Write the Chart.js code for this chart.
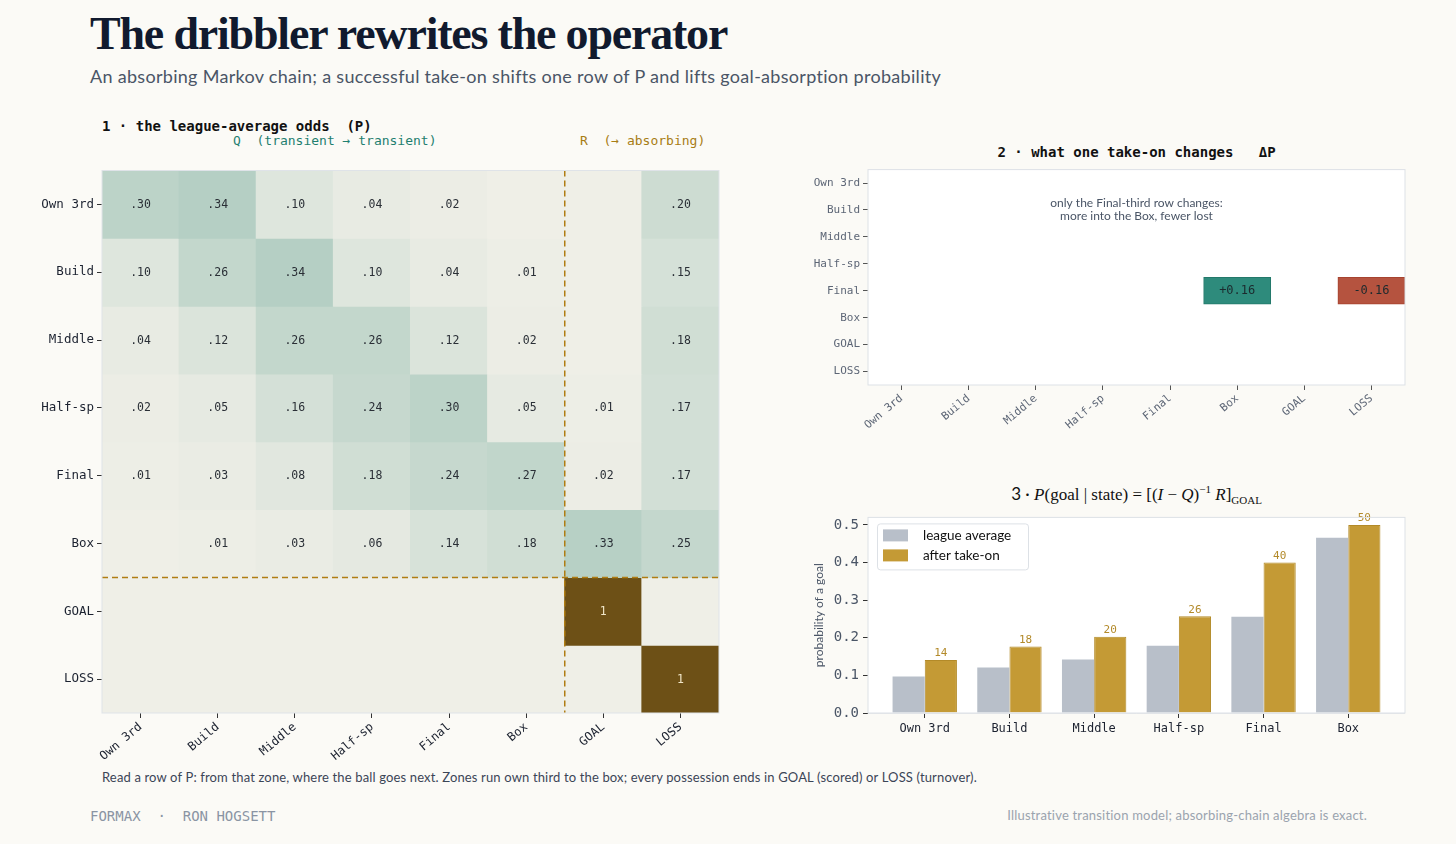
<!DOCTYPE html>
<html>
<head>
<meta charset="utf-8">
<script src="https://cdn.jsdelivr.net/npm/chart.js@4.4.1/dist/chart.umd.min.js"></script>
<style>
  body { margin: 0; background: #fbfaf6; width: 1456px; height: 844px; position: relative; overflow: hidden; font-family: Lato, "Noto Sans", sans-serif; }
  .abs { position: absolute; white-space: pre; line-height: 1; }
  .mono { font-family: "DejaVu Sans Mono", monospace; }
  #title { left: 90px; top: 11px; font-family: "Liberation Serif", serif; font-weight: bold; font-size: 46px; color: #111a2e; letter-spacing: -1.2px; }
  #subtitle { left: 90px; top: 67px; font-size: 18px; color: #4a5566; letter-spacing: 0.3px; }
  #h1 { left: 102px; top: 119px; font-size: 14px; font-weight: bold; color: #111; }
  #hq { left: 233px; top: 134px; font-size: 13px; color: #1f7f70; }
  #hr { left: 580px; top: 134px; font-size: 13px; color: #a87d14; }
  #h2 { left: 868px; width: 537px; text-align: center; top: 145px; font-size: 14px; font-weight: bold; color: #111; }
  #h3 { left: 868px; width: 537px; text-align: center; top: 484px; font-size: 17px; color: #111; font-family: "Liberation Serif", serif; }
  #h3 .sans { font-family: Lato, sans-serif; }
  #note { left: 102px; top: 771px; font-size: 13px; color: #3b4556; letter-spacing: 0.15px; }
  #brand { left: 90px; top: 809px; font-size: 14px; color: #8a94a3; }
  #credit { right: 89px; top: 809px; font-size: 13px; color: #9aa3ae; letter-spacing: 0.2px; }
  canvas { position: absolute; }
</style>
</head>
<body>
<div class="abs" id="title">The dribbler rewrites the operator</div>
<div class="abs" id="subtitle">An absorbing Markov chain; a successful take-on shifts one row of P and lifts goal-absorption probability</div>
<div class="abs mono" id="h1">1 · the league-average odds  (P)</div>
<div class="abs mono" id="hq">Q  (transient → transient)</div>
<div class="abs mono" id="hr">R  (→ absorbing)</div>
<div class="abs mono" id="h2">2 · what one take-on changes   ΔP</div>
<div class="abs" id="h3"><span class="sans">3 · </span><i>P</i>(goal | state) = [(<i>I</i> − <i>Q</i>)<sup style="font-size:11px">−1</sup> <i>R</i>]<sub style="font-size:11px">GOAL</sub></div>
<div class="abs" id="note">Read a row of P: from that zone, where the ball goes next. Zones run own third to the box; every possession ends in GOAL (scored) or LOSS (turnover).</div>
<div class="abs mono" id="brand">FORMAX  ·  RON HOGSETT</div>
<div class="abs" id="credit">Illustrative transition model; absorbing-chain algebra is exact.</div>

<canvas id="heat" width="720" height="620" style="left:20px;top:160px"></canvas>
<canvas id="delta" width="640" height="290" style="left:790px;top:160px"></canvas>
<canvas id="goal" width="640" height="245" style="left:790px;top:505px"></canvas>

<script>
// zones of the pitch, transient first, then the two absorbing states
const zones = ['Own 3rd', 'Build', 'Middle', 'Half-sp', 'Final', 'Box', 'GOAL', 'LOSS'];
const transientZones = ['Own 3rd', 'Build', 'Middle', 'Half-sp', 'Final', 'Box'];

// rows of P (league average), read left to right
const rowOwn3rd = [0.30, 0.34, 0.10, 0.04, 0.02, 0.00, 0.00, 0.20];
const rowBuild  = [0.10, 0.26, 0.34, 0.10, 0.04, 0.01, 0.00, 0.15];
const rowMiddle = [0.04, 0.12, 0.26, 0.26, 0.12, 0.02, 0.00, 0.18];
const rowHalfSp = [0.02, 0.05, 0.16, 0.24, 0.30, 0.05, 0.01, 0.17];
const rowFinal  = [0.01, 0.03, 0.08, 0.18, 0.24, 0.27, 0.02, 0.17];
const rowBox    = [0.00, 0.01, 0.03, 0.06, 0.14, 0.18, 0.33, 0.25];
const rowGoal   = [0, 0, 0, 0, 0, 0, 1, 0];
const rowLoss   = [0, 0, 0, 0, 0, 0, 0, 1];

// what a take-on does: only the Final row moves
const deltaFinal = [0, 0, 0, 0, 0, 0.16, 0, -0.16];

// goal-absorption probability per starting zone
const goalLeague = [0.097, 0.121, 0.142, 0.179, 0.256, 0.466];
const goalAfter  = [0.141, 0.177, 0.203, 0.257, 0.400, 0.500];

const MONO = '"DejaVu Sans Mono", monospace';
const SANS = 'Lato, "Noto Sans", sans-serif';

// cream -> sage -> brown
const cmapStops = [[0, [239, 239, 231]], [0.34, [181, 207, 196]], [1, [109, 80, 22]]];
function heatColor(v) {
  for (let i = 1; i < cmapStops.length; i++) {
    const [v0, c0] = cmapStops[i - 1];
    const [v1, c1] = cmapStops[i];
    if (v <= v1) {
      const t = (v - v0) / (v1 - v0);
      const c = c0.map((a, k) => Math.round(a + (c1[k] - a) * t));
      return 'rgb(' + c.join(',') + ')';
    }
  }
  return 'rgb(109,80,22)';
}

function fmtP(v) {
  if (v === 0) return '';
  if (v === 1) return '1';
  return v.toFixed(2).replace(/^0/, '');
}

const framePlugin = {
  id: 'frame',
  beforeDatasetsDraw(chart, args, opts) {
    if (!opts.fill) return;
    const a = chart.chartArea;
    chart.ctx.save();
    chart.ctx.fillStyle = opts.fill;
    chart.ctx.fillRect(a.left, a.top, a.width, a.height);
    chart.ctx.restore();
  },
  afterDraw(chart, args, opts) {
    const a = chart.chartArea, ctx = chart.ctx;
    ctx.save();
    ctx.strokeStyle = opts.color || '#dce0e5';
    ctx.lineWidth = 1;
    ctx.strokeRect(a.left, a.top, a.width, a.height);
    ctx.restore();
  }
};

// cell text for grid charts
const cellTextPlugin = {
  id: 'cellText',
  afterDatasetsDraw(chart, args, opts) {
    const ctx = chart.ctx;
    ctx.save();
    ctx.font = opts.font;
    ctx.textAlign = 'center';
    ctx.textBaseline = 'middle';
    chart.data.datasets.forEach((ds, di) => {
      chart.getDatasetMeta(di).data.forEach((el, i) => {
        const v = ds.values[i];
        const txt = opts.format(v);
        if (!txt) return;
        ctx.fillStyle = v >= 0.6 ? '#f1e6c8' : opts.color;
        ctx.fillText(txt, el.x, (el.y + el.base) / 2 + 0.5);
      });
    });
    ctx.restore();
  }
};

// dashed Q | R split
const splitPlugin = {
  id: 'split',
  afterDatasetsDraw(chart) {
    const ctx = chart.ctx, a = chart.chartArea;
    const x = chart.scales.x.getPixelForValue(transientZones.length - 0.5);
    const y = chart.scales.y.getPixelForValue(transientZones.length);
    ctx.save();
    ctx.strokeStyle = '#b07d12';
    ctx.lineWidth = 1.5;
    ctx.setLineDash([6, 4]);
    ctx.beginPath();
    ctx.moveTo(x, a.top); ctx.lineTo(x, a.bottom);
    ctx.moveTo(a.left, y); ctx.lineTo(a.right, y);
    ctx.stroke();
    ctx.restore();
  }
};

function gridScales(opts) {
  return {
    x: {
      type: 'category', offset: true,
      grid: { offset: false, drawOnChartArea: false, tickLength: 5, tickColor: opts.tick },
      border: { display: false },
      ticks: { minRotation: 40, maxRotation: 40, autoSkip: false, padding: 2, color: opts.label, font: { family: MONO, size: opts.xSize } },
      afterFit: s => { s.height = opts.xH; }
    },
    y: {
      type: 'linear', min: 0, max: zones.length, reverse: true,
      afterBuildTicks: s => { s.ticks = zones.map((z, i) => ({ value: i + 0.5 })); },
      grid: { drawOnChartArea: false, tickLength: 5, tickColor: opts.tick },
      border: { display: false },
      ticks: { autoSkip: false, padding: 3, color: opts.label, font: { family: MONO, size: opts.ySize }, callback: v => zones[Math.floor(v)] },
      afterFit: s => { s.width = opts.yW; }
    }
  };
}

// ---------- 1: heatmap of P ----------
const pRows = [rowOwn3rd, rowBuild, rowMiddle, rowHalfSp, rowFinal, rowBox, rowGoal, rowLoss];

new Chart(document.getElementById('heat'), {
  type: 'bar',
  data: {
    labels: zones,
    datasets: pRows.map((row, r) => ({
      label: zones[r],
      data: row.map(() => [r, r + 1]),
      values: row,
      backgroundColor: row.map(heatColor),
      borderWidth: 0,
      inflateAmount: 0.5,
      grouped: false,
      barPercentage: 1,
      categoryPercentage: 1
    }))
  },
  options: {
    responsive: false, animation: false,
    layout: { padding: { top: 9, right: 21, left: 0, bottom: 0 } },
    plugins: {
      legend: { display: false }, tooltip: { enabled: false },
      frame: { color: '#dfe3e8' },
      cellText: { font: '11.5px ' + MONO, color: '#2a2f36', format: fmtP }
    },
    scales: gridScales({ tick: '#333', label: '#1c2230', xSize: 12, ySize: 12.5, xH: 67, yW: 82 })
  },
  plugins: [framePlugin, cellTextPlugin, splitPlugin]
});

// ---------- 2: delta P ----------
const dRows = zones.map(z => (z === 'Final' ? deltaFinal : zones.map(() => 0)));
function deltaColor(v) { return v > 0 ? '#2e8b7c' : v < 0 ? '#b5533f' : 'rgba(0,0,0,0)'; }
function deltaBorder(v) { return v > 0 ? '#23786a' : v < 0 ? '#a6432f' : 'rgba(0,0,0,0)'; }

const notePlugin = {
  id: 'note',
  afterDatasetsDraw(chart) {
    const ctx = chart.ctx, a = chart.chartArea;
    ctx.save();
    ctx.font = '12px ' + SANS;
    ctx.fillStyle = '#4a5566';
    ctx.textAlign = 'center';
    ctx.textBaseline = 'middle';
    const cx = (a.left + a.right) / 2;
    ctx.fillText('only the Final-third row changes:', cx, a.top + 34);
    ctx.fillText('more into the Box, fewer lost', cx, a.top + 47);
    ctx.restore();
  }
};

new Chart(document.getElementById('delta'), {
  type: 'bar',
  data: {
    labels: zones,
    datasets: dRows.map((row, r) => ({
      label: zones[r],
      data: row.map(() => [r, r + 1]),
      values: row,
      backgroundColor: row.map(deltaColor),
      borderColor: row.map(deltaBorder),
      borderWidth: 1,
      borderSkipped: false,
      grouped: false,
      barPercentage: 1,
      categoryPercentage: 1
    }))
  },
  options: {
    responsive: false, animation: false,
    layout: { padding: { top: 9, right: 25, left: 0, bottom: 0 } },
    plugins: {
      legend: { display: false }, tooltip: { enabled: false },
      frame: { color: '#dde1e6', fill: '#ffffff' },
      cellText: { font: '12px ' + MONO, color: '#1c2a2e', format: v => (v === 0 ? '' : (v > 0 ? '+' : '') + v.toFixed(2)) }
    },
    scales: gridScales({ tick: '#555', label: '#5d6676', xSize: 11, ySize: 11, xH: 65, yW: 78 })
  },
  plugins: [framePlugin, cellTextPlugin, notePlugin]
});

// ---------- 3: goal probability ----------
const goalLabelsPlugin = {
  id: 'goalLabels',
  afterDatasetsDraw(chart) {
    const ctx = chart.ctx;
    const meta = chart.getDatasetMeta(1);
    ctx.save();
    ctx.font = '11px ' + MONO;
    ctx.fillStyle = '#b38a2a';
    ctx.textAlign = 'center';
    ctx.textBaseline = 'bottom';
    meta.data.forEach((el, i) => {
      ctx.fillText(String(Math.round(goalAfter[i] * 100)), el.x, el.y - 1);
    });
    ctx.restore();
  }
};

const boxLegendPlugin = {
  id: 'boxLegend',
  afterDatasetsDraw(chart) {
    const ctx = chart.ctx, a = chart.chartArea;
    const x = a.left + 9, y = a.top + 6, w = 151, h = 46;
    ctx.save();
    ctx.fillStyle = 'rgba(255,255,255,0.9)';
    ctx.strokeStyle = '#dde1e6';
    ctx.lineWidth = 1;
    ctx.beginPath();
    ctx.roundRect(x + 0.5, y + 0.5, w, h, 3);
    ctx.fill();
    ctx.stroke();
    ctx.font = '13.5px ' + SANS;
    ctx.textBaseline = 'middle';
    chart.data.datasets.forEach((ds, i) => {
      const cy = y + 12 + i * 20;
      ctx.fillStyle = ds.backgroundColor;
      ctx.fillRect(x + 6, cy - 6, 25, 12);
      ctx.fillStyle = '#111';
      ctx.fillText(ds.label, x + 46, cy);
    });
    ctx.restore();
  }
};

new Chart(document.getElementById('goal'), {
  type: 'bar',
  data: {
    datasets: [
      { label: 'league average', data: goalLeague.map((v, i) => ({ x: i, y: v })), backgroundColor: '#b8bfc9', borderWidth: 0 },
      { label: 'after take-on', data: goalAfter.map((v, i) => ({ x: i, y: v })), backgroundColor: '#c49a35', borderColor: '#b38a28', borderWidth: 1 }
    ]
  },
  options: {
    responsive: false, animation: false,
    layout: { padding: { top: 10, right: 25, left: 0, bottom: 0 } },
    datasets: { bar: { categoryPercentage: 0.76, barPercentage: 1 } },
    plugins: {
      legend: { display: false }, tooltip: { enabled: false },
      frame: { color: '#dde1e6', fill: '#ffffff' }
    },
    scales: {
      x: {
        type: 'linear', min: -0.67, max: transientZones.length - 1 + 0.67, offset: false,
        afterBuildTicks: s => { s.ticks = transientZones.map((z, i) => ({ value: i })); },
        grid: { offset: false, drawOnChartArea: false, tickLength: 5, tickColor: '#333' },
        border: { display: false },
        ticks: { autoSkip: false, maxRotation: 0, color: '#1c2230', padding: 4, font: { family: MONO, size: 12 }, callback: v => transientZones[v] },
        afterFit: s => { s.height = 37; }
      },
      y: {
        min: 0, max: 0.52,
        grid: { color: '#e4e7eb', tickColor: '#333', tickLength: 5 },
        border: { display: false },
        ticks: { stepSize: 0.1, includeBounds: false, color: '#4a5566', padding: 4, font: { family: MONO, size: 14 }, callback: v => v.toFixed(1) },
        title: { display: true, text: 'probability of a goal', color: '#4a5566', font: { family: SANS, size: 12 }, padding: { top: 22, bottom: 0 } },
        afterFit: s => { s.width = 78; }
      }
    }
  },
  plugins: [framePlugin, goalLabelsPlugin, boxLegendPlugin]
});
</script>
</body>
</html>
